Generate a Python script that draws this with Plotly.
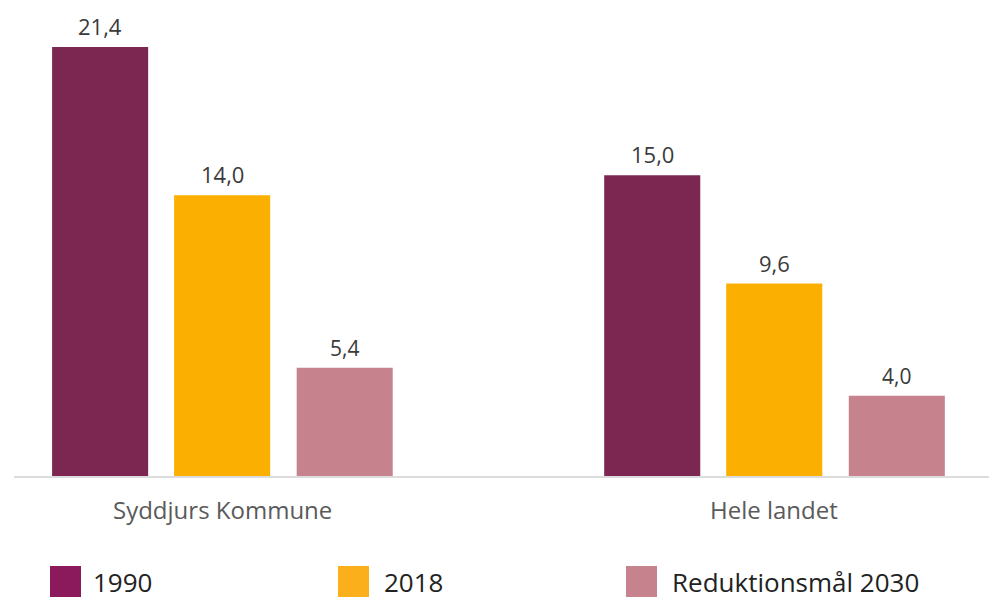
import plotly.graph_objects as go

categories = ["Syddjurs Kommune", "Hele landet"]
series_names = ["1990", "2018", "Reduktionsmål 2030"]
values_1990 = [21.4, 15.0]
values_2018 = [14.0, 9.6]
values_2030 = [5.4, 4.0]
labels_1990 = ["21,4", "15,0"]
labels_2018 = ["14,0", "9,6"]
labels_2030 = ["5,4", "4,0"]

bar_colors = ["#7B2752", "#FBAF00", "#C7838D"]
swatch_colors = ["#8A1A5C", "#FBAF1A", "#C7838D"]

W, H = 989, 599
ML, MR, MT, MB = 14, 0, 20, 123
PW, PH = W - ML - MR, H - MT - MB

def px_x(p):
    return (p - ML) / PW

def px_y(p):
    return (H - MB - p) / PH

bar_w = 0.174
offsets = [-0.308, -0.087, 0.135]
series = [values_1990, values_2018, values_2030]
labels = [labels_1990, labels_2018, labels_2030]

fig = go.Figure()
for i, (name, vals) in enumerate(zip(series_names, series)):
    fig.add_trace(go.Bar(
        x=categories, y=vals, name=name,
        marker=dict(color=bar_colors[i], line=dict(width=0)),
        width=bar_w, offset=offsets[i], showlegend=False,
        hoverinfo="skip",
    ))

annotations = []
for i, labs in enumerate(labels):
    small = i == 2
    for j, lab in enumerate(labs):
        annotations.append(dict(
            x=j + offsets[i] + bar_w / 2, y=series[i][j], xref="x", yref="y",
            text=lab, showarrow=False, yanchor="middle",
            yshift=20 if small else 21,
            font=dict(family="Open Sans", size=21 if small else 22, color="#3a3a3a"),
        ))

for j, cat in enumerate(categories):
    annotations.append(dict(
        x=j, y=0, xref="x", yref="y", text=cat, showarrow=False,
        yanchor="middle", yshift=-33,
        font=dict(family="Open Sans", size=24, color="#5a5a5a"),
    ))

shapes = []
swatch_left = [50, 338, 626]
text_left = [91, 382, 670]
for i, name in enumerate(series_names):
    shapes.append(dict(
        type="rect", xref="paper", yref="paper",
        x0=px_x(swatch_left[i]), x1=px_x(swatch_left[i] + 31),
        y0=px_y(597), y1=px_y(566),
        fillcolor=swatch_colors[i], line=dict(width=0),
    ))
    annotations.append(dict(
        x=px_x(text_left[i]), y=px_y(582), xref="paper", yref="paper",
        text=name, showarrow=False, xanchor="left", yanchor="middle",
        font=dict(family="Open Sans", size=26, color="#222222"),
    ))

ymax = PH / 20.05
fig.update_layout(
    width=W, height=H,
    margin=dict(l=ML, r=MR, t=MT, b=MB),
    paper_bgcolor="white", plot_bgcolor="white",
    barmode="overlay",
    xaxis=dict(type="category", range=[-0.377, 1.389], showticklabels=False,
               showgrid=False, zeroline=False, showline=True,
               linecolor="#dcdcdc", linewidth=2, ticks=""),
    yaxis=dict(range=[0, ymax], visible=False, showgrid=False, zeroline=False),
    annotations=annotations, shapes=shapes,
)

fig.write_html(
    "out.html",
    config={"displayModeBar": False},
    post_script="document.body.style.margin='0';document.body.style.overflow='hidden';",
)
